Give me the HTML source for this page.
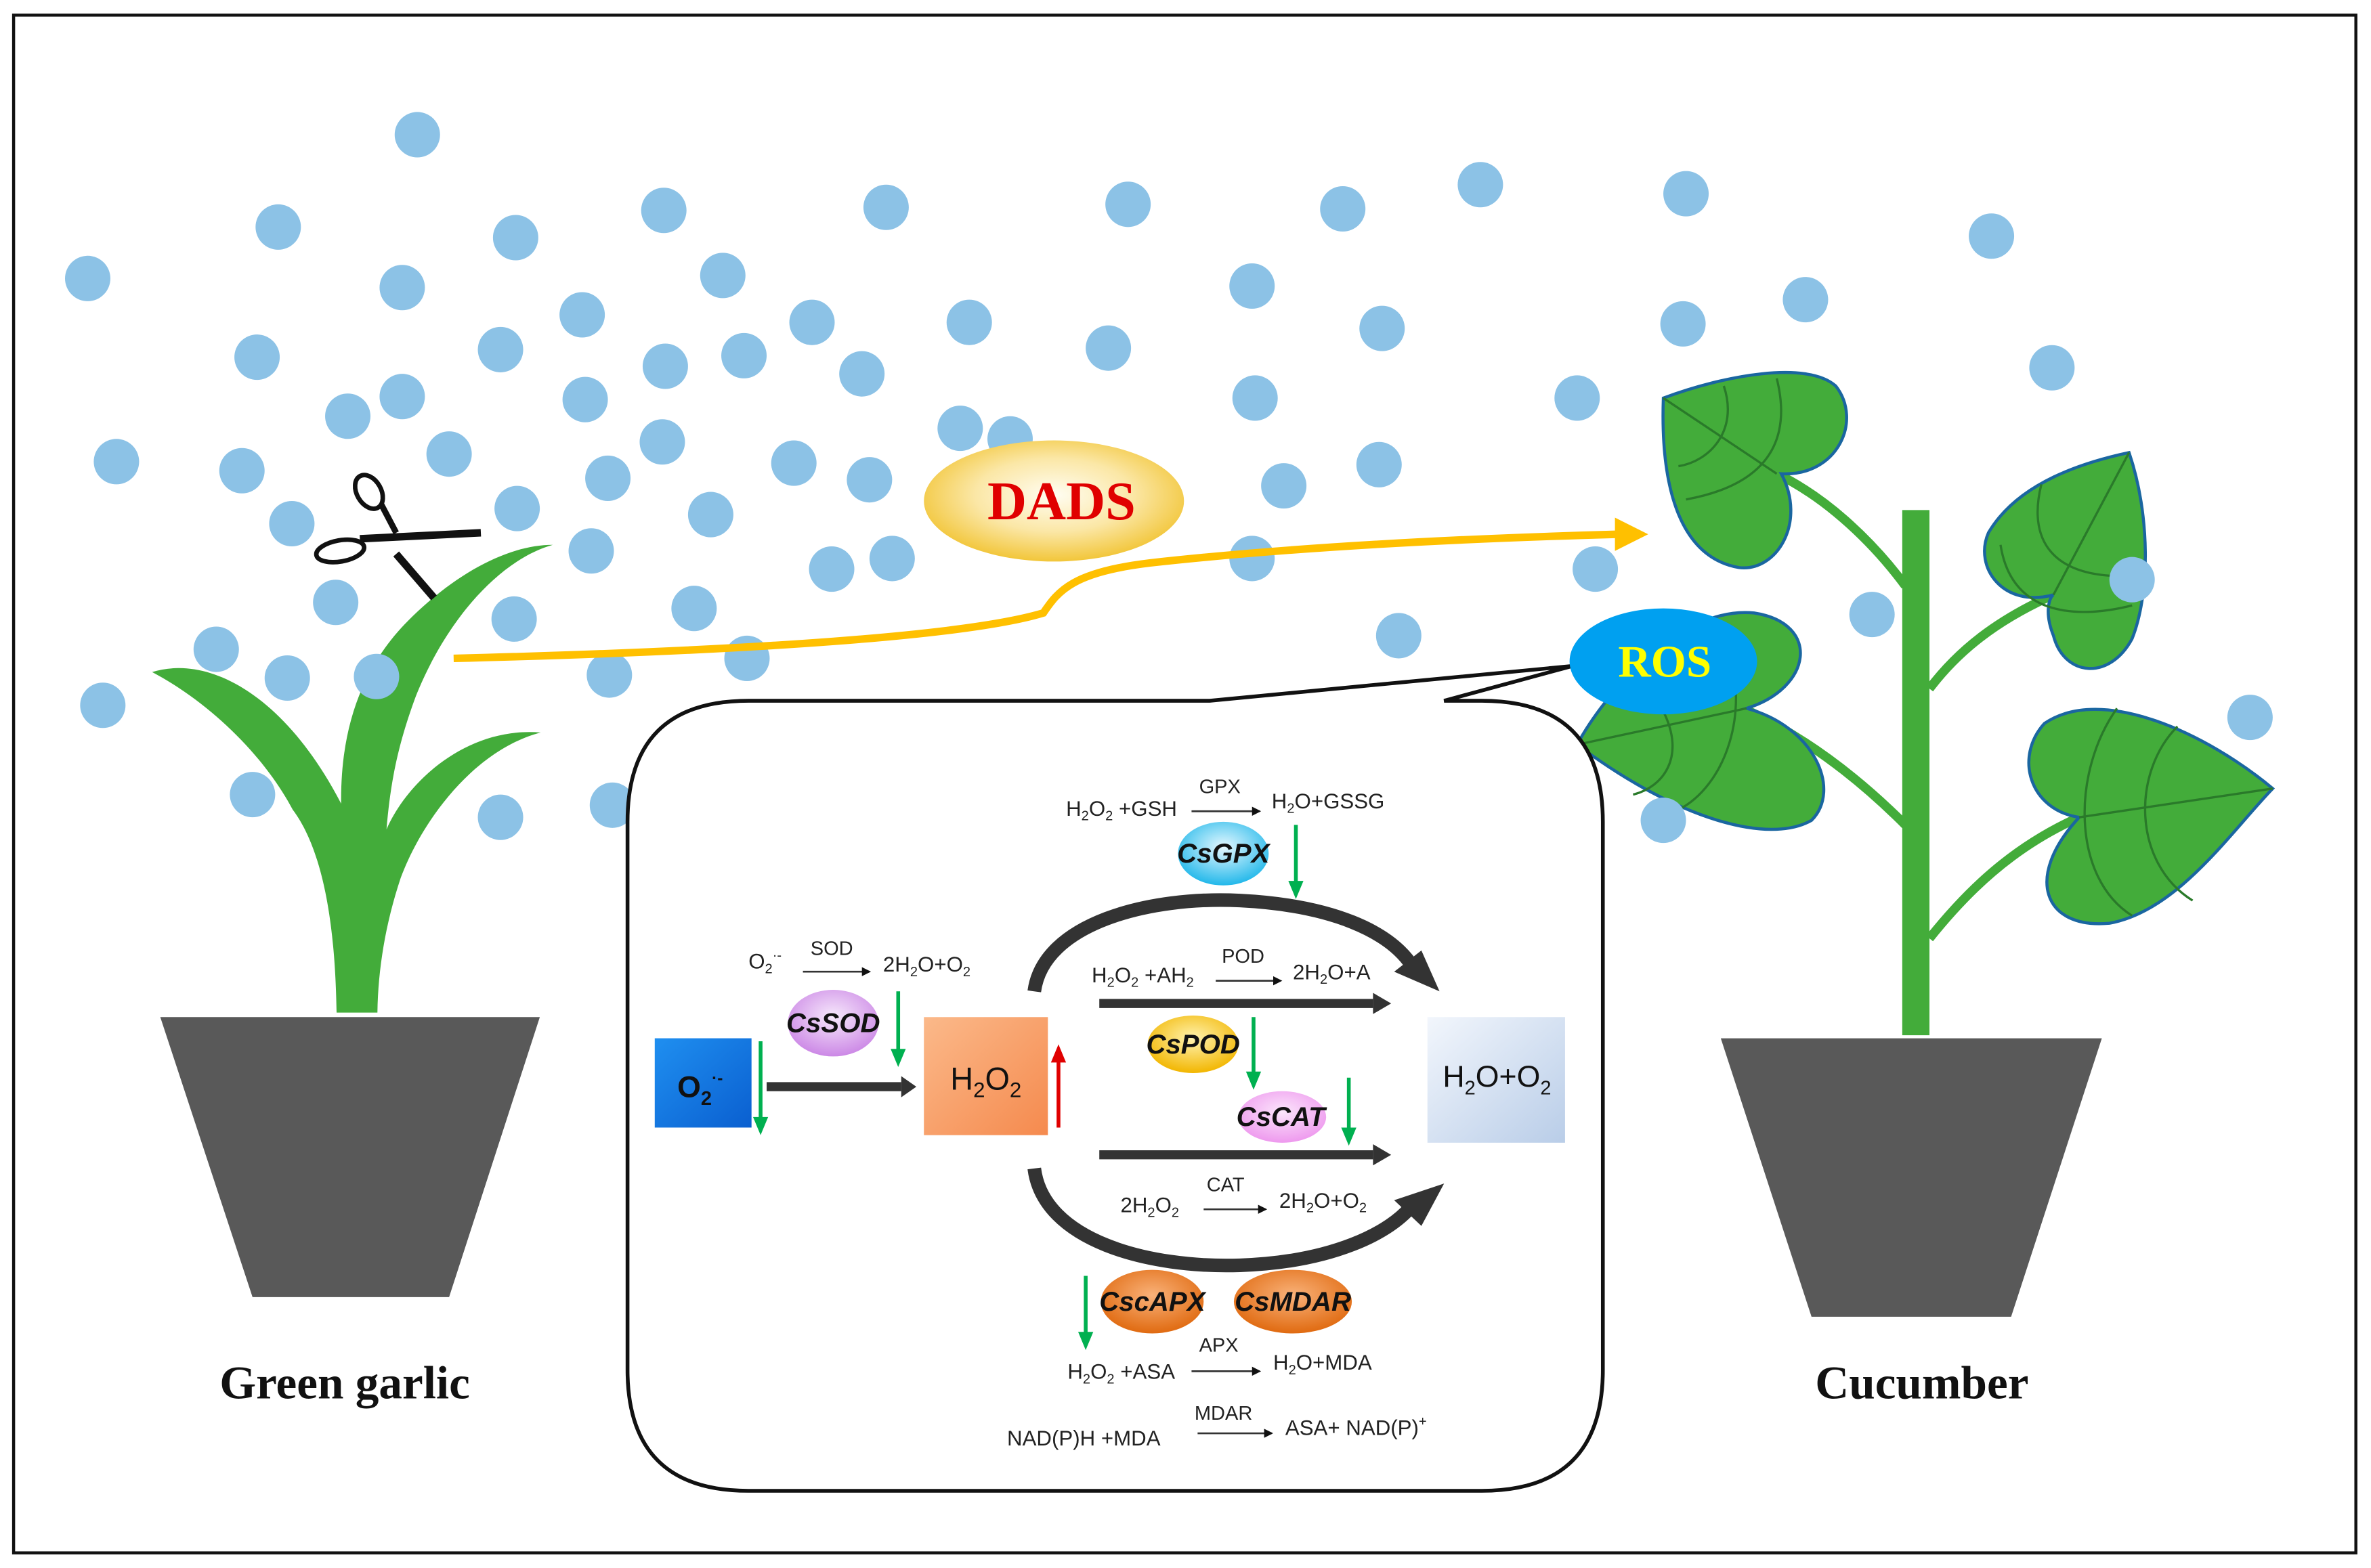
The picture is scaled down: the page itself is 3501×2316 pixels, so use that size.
<!DOCTYPE html>
<html><head><meta charset="utf-8"><style>
html,body{margin:0;padding:0;background:#fff;}
svg{display:block;}
.t{font-family:"Liberation Sans",sans-serif;font-size:14px;fill:#222;}
.e{font-family:"Liberation Sans",sans-serif;font-size:18px;font-weight:bold;font-style:italic;fill:#111;}
</style></head><body>
<svg width="3501" height="2316" viewBox="0 0 1568 1036" preserveAspectRatio="none" xmlns="http://www.w3.org/2000/svg">
<defs>
<radialGradient id="dads" cx="50%" cy="45%" r="55%"><stop offset="0" stop-color="#fffdf2"/><stop offset="0.55" stop-color="#fbe7a6"/><stop offset="1" stop-color="#f2c63a"/></radialGradient>
<linearGradient id="o2" x1="0" y1="0" x2="1" y2="1"><stop offset="0" stop-color="#1f8ff0"/><stop offset="1" stop-color="#0a5fd0"/></linearGradient>
<linearGradient id="h2o2" x1="0" y1="0" x2="1" y2="1"><stop offset="0" stop-color="#fbb98a"/><stop offset="1" stop-color="#f58a4e"/></linearGradient>
<linearGradient id="h2o" x1="0" y1="0" x2="1" y2="1"><stop offset="0" stop-color="#f2f6fc"/><stop offset="1" stop-color="#b9cde8"/></linearGradient>
<radialGradient id="gpx" cx="50%" cy="40%" r="60%"><stop offset="0" stop-color="#e6f8ff"/><stop offset="1" stop-color="#22b8ea"/></radialGradient>
<radialGradient id="sod" cx="50%" cy="40%" r="60%"><stop offset="0" stop-color="#f6e8fb"/><stop offset="1" stop-color="#cc88e6"/></radialGradient>
<radialGradient id="pod" cx="50%" cy="40%" r="60%"><stop offset="0" stop-color="#fff3b0"/><stop offset="1" stop-color="#f2b600"/></radialGradient>
<radialGradient id="cat" cx="50%" cy="40%" r="60%"><stop offset="0" stop-color="#fbe6fb"/><stop offset="1" stop-color="#ee99ee"/></radialGradient>
<radialGradient id="apx" cx="50%" cy="40%" r="60%"><stop offset="0" stop-color="#f9b27a"/><stop offset="1" stop-color="#e06a10"/></radialGradient>
<marker id="ah" markerWidth="6" markerHeight="6" refX="5" refY="3" orient="auto" markerUnits="userSpaceOnUse"><path d="M0,0 L6,3 L0,6z" fill="#111"/></marker>
</defs>
<rect x="9" y="10" width="1549" height="1016" fill="#fff" stroke="#111" stroke-width="2"/>

<g fill="#8cc2e6">
<ellipse cx="276" cy="89" rx="15" ry="15"/><ellipse cx="184" cy="150" rx="15" ry="15"/><ellipse cx="58" cy="184" rx="15" ry="15"/><ellipse cx="341" cy="157" rx="15" ry="15"/><ellipse cx="439" cy="139" rx="15" ry="15"/><ellipse cx="586" cy="137" rx="15" ry="15"/><ellipse cx="746" cy="135" rx="15" ry="15"/><ellipse cx="888" cy="138" rx="15" ry="15"/><ellipse cx="979" cy="122" rx="15" ry="15"/><ellipse cx="1115" cy="128" rx="15" ry="15"/><ellipse cx="1317" cy="156" rx="15" ry="15"/><ellipse cx="266" cy="190" rx="15" ry="15"/><ellipse cx="478" cy="182" rx="15" ry="15"/><ellipse cx="385" cy="208" rx="15" ry="15"/><ellipse cx="170" cy="236" rx="15" ry="15"/><ellipse cx="331" cy="231" rx="15" ry="15"/><ellipse cx="440" cy="242" rx="15" ry="15"/><ellipse cx="492" cy="235" rx="15" ry="15"/><ellipse cx="537" cy="213" rx="15" ry="15"/><ellipse cx="641" cy="213" rx="15" ry="15"/><ellipse cx="733" cy="230" rx="15" ry="15"/><ellipse cx="828" cy="189" rx="15" ry="15"/><ellipse cx="914" cy="217" rx="15" ry="15"/><ellipse cx="1113" cy="214" rx="15" ry="15"/><ellipse cx="1194" cy="198" rx="15" ry="15"/><ellipse cx="1357" cy="243" rx="15" ry="15"/><ellipse cx="230" cy="275" rx="15" ry="15"/><ellipse cx="266" cy="262" rx="15" ry="15"/><ellipse cx="387" cy="264" rx="15" ry="15"/><ellipse cx="570" cy="247" rx="15" ry="15"/><ellipse cx="77" cy="305" rx="15" ry="15"/><ellipse cx="160" cy="311" rx="15" ry="15"/><ellipse cx="297" cy="300" rx="15" ry="15"/><ellipse cx="438" cy="292" rx="15" ry="15"/><ellipse cx="525" cy="306" rx="15" ry="15"/><ellipse cx="575" cy="317" rx="15" ry="15"/><ellipse cx="635" cy="283" rx="15" ry="15"/><ellipse cx="668" cy="290" rx="15" ry="15"/><ellipse cx="830" cy="263" rx="15" ry="15"/><ellipse cx="1043" cy="263" rx="15" ry="15"/><ellipse cx="193" cy="346" rx="15" ry="15"/><ellipse cx="342" cy="336" rx="15" ry="15"/><ellipse cx="402" cy="316" rx="15" ry="15"/><ellipse cx="470" cy="340" rx="15" ry="15"/><ellipse cx="849" cy="321" rx="15" ry="15"/><ellipse cx="912" cy="307" rx="15" ry="15"/><ellipse cx="222" cy="398" rx="15" ry="15"/><ellipse cx="391" cy="364" rx="15" ry="15"/><ellipse cx="550" cy="376" rx="15" ry="15"/><ellipse cx="590" cy="369" rx="15" ry="15"/><ellipse cx="828" cy="369" rx="15" ry="15"/><ellipse cx="1055" cy="376" rx="15" ry="15"/><ellipse cx="143" cy="429" rx="15" ry="15"/><ellipse cx="340" cy="409" rx="15" ry="15"/><ellipse cx="459" cy="402" rx="15" ry="15"/><ellipse cx="403" cy="446" rx="15" ry="15"/><ellipse cx="494" cy="435" rx="15" ry="15"/><ellipse cx="925" cy="420" rx="15" ry="15"/><ellipse cx="1238" cy="406" rx="15" ry="15"/><ellipse cx="68" cy="466" rx="15" ry="15"/><ellipse cx="1488" cy="474" rx="15" ry="15"/><ellipse cx="167" cy="525" rx="15" ry="15"/><ellipse cx="331" cy="540" rx="15" ry="15"/><ellipse cx="405" cy="532" rx="15" ry="15"/>
</g>

<!-- garlic -->
<path fill="#43ac3a" d="M222.6,669 C222,640 220,570 193.6,535 C175,500 140,465 100.6,444 C140,432 190,462 225.6,531 C225,480 240,440 270,410 C300,380 335,360 365.6,360 C330,370 295,410 275,460 C262,495 258,520 255.6,548 C270,515 310,480 357.6,484 C315,495 280,540 265,580 C255,610 250,640 249.6,669 Z"/>
<g fill="#8cc2e6"><ellipse cx="190" cy="448" rx="15" ry="15"/><ellipse cx="249" cy="447" rx="15" ry="15"/></g>
<polygon points="106,672 357,672 297,857 167,857" fill="#595959"/>
<g stroke="#111" fill="none">
<line x1="238" y1="356" x2="318" y2="352" stroke-width="5"/>
<line x1="262" y1="366" x2="287" y2="395" stroke-width="5"/>
<line x1="252" y1="333" x2="262" y2="352" stroke-width="4"/>
<ellipse cx="244" cy="325" rx="8" ry="12" stroke-width="3" transform="rotate(-30 244 325)"/>
<ellipse cx="225" cy="364" rx="16" ry="7" stroke-width="3" transform="rotate(-10 225 364)"/>
</g>

<path d="M300,435 C500,430 640,420 690,405 C700,390 710,378 760,372 C850,362 960,356 1070,353" fill="none" stroke="#ffc000" stroke-width="5"/>
<polygon points="1068,342 1090,353 1068,364" fill="#ffc000"/>
<ellipse cx="697" cy="331" rx="86" ry="40" fill="url(#dads)"/>
<text x="702" y="343" text-anchor="middle" font-family="Liberation Serif,serif" font-weight="bold" font-size="36" fill="#e00000">DADS</text>

<g fill="none" stroke="#43ac3a" stroke-width="6">
<path d="M1175,313 C1210,330 1240,360 1260,387"/>
<path d="M1358,393 C1320,410 1295,430 1276,455"/>
<path d="M1155,469 C1200,490 1235,520 1260,545"/>
<path d="M1375,540 C1330,560 1300,590 1276,620"/>
</g>
<rect x="1258" y="337" width="18" height="347" fill="#43ac3a"/>
<g fill="#43ac3a" stroke="#1a66a0" stroke-width="2">
<path d="M1100,263 C1140,248 1195,238 1214,255 C1232,278 1215,315 1178,313 C1195,345 1175,378 1150,375 C1110,368 1098,320 1100,263 Z"/>
<path d="M1408,299 C1422,340 1422,392 1410,422 C1395,450 1365,447 1358,420 C1352,405 1355,395 1358,393 C1325,402 1305,375 1315,352 C1335,318 1380,305 1408,299 Z"/>
<path d="M1043,492 C1060,460 1110,400 1160,405 C1205,412 1198,455 1155,468 C1200,480 1218,522 1198,542 C1170,558 1110,542 1043,492 Z"/>
<path d="M1503,521 C1475,550 1440,602 1395,610 C1352,614 1338,580 1375,540 C1342,535 1332,500 1352,478 C1390,452 1460,485 1503,521 Z"/>
</g>
<g fill="none" stroke="#2a7a2a" stroke-width="1.5">
<line x1="1100" y1="263" x2="1175" y2="313"/><path d="M1140,255 C1150,285 1130,305 1110,308"/><path d="M1175,250 C1185,290 1170,320 1115,330"/>
<line x1="1408" y1="299" x2="1358" y2="393"/><path d="M1350,320 C1340,360 1360,385 1418,380"/><path d="M1323,360 C1330,405 1370,410 1410,400"/>
<line x1="1043" y1="492" x2="1155" y2="468"/><path d="M1100,470 C1115,500 1100,520 1080,525"/><path d="M1140,420 C1160,470 1140,520 1110,535"/>
<line x1="1503" y1="521" x2="1375" y2="540"/><path d="M1440,480 C1410,510 1410,570 1450,595"/><path d="M1400,468 C1370,510 1370,580 1410,605"/>
</g>
<ellipse cx="1100" cy="542" rx="15" ry="15" fill="#8cc2e6"/>
<ellipse cx="1410" cy="383" rx="15" ry="15" fill="#8cc2e6"/>
<polygon points="1138,686 1390,686 1330,870 1198,870" fill="#595959"/>

<path d="M495,463 L800,463 L1040,440 L955,463 L980,463 Q1060,463 1060,543 L1060,905 Q1060,985 980,985 L495,985 Q415,985 415,905 L415,543 Q415,463 495,463 Z" fill="#fff" stroke="#111" stroke-width="2.5"/>
<ellipse cx="1100" cy="437" rx="62" ry="35" fill="#00a0f0"/>
<text x="1101" y="447" text-anchor="middle" font-family="Liberation Serif,serif" font-weight="bold" font-size="30" fill="#ffff00">ROS</text>

<rect x="433" y="686" width="64" height="59" fill="url(#o2)"/>
<text x="463" y="725" text-anchor="middle" font-family="Liberation Sans,sans-serif" font-weight="bold" font-size="20" fill="#111">O<tspan font-size="13" dy="5">2</tspan><tspan font-size="11" dy="-14">·-</tspan></text>
<rect x="611" y="672" width="82" height="78" fill="url(#h2o2)"/>
<text x="652" y="720" text-anchor="middle" font-family="Liberation Sans,sans-serif" font-size="21" fill="#111">H<tspan font-size="14" dy="5">2</tspan><tspan dy="-5">O</tspan><tspan font-size="14" dy="5">2</tspan></text>
<rect x="944" y="672" width="91" height="83" fill="url(#h2o)"/>
<text x="990" y="718" text-anchor="middle" font-family="Liberation Sans,sans-serif" font-size="20" fill="#111">H<tspan font-size="13" dy="5">2</tspan><tspan dy="-5">O+O</tspan><tspan font-size="13" dy="5">2</tspan></text>

<g stroke="#333" stroke-width="6" fill="none">
<line x1="507" y1="718" x2="596" y2="718"/>
<line x1="727" y1="663" x2="908" y2="663"/>
<line x1="727" y1="763" x2="908" y2="763"/>
<path d="M684,655 C690,610 760,592 820,595 C880,598 920,615 935,640" stroke-width="9"/>
<path d="M684,772 C690,820 760,838 820,836 C880,834 920,815 935,795" stroke-width="9"/>
</g>
<g fill="#333">
<polygon points="596,711 606,718 596,725"/>
<polygon points="908,656 920,663 908,670"/>
<polygon points="908,756 920,763 908,770"/>
<polygon points="922,642 952,655 940,628"/>
<polygon points="922,793 955,782 940,810"/>
</g>

<g stroke="#00b050" stroke-width="2.5">
<line x1="503" y1="688" x2="503" y2="740"/><line x1="594" y1="655" x2="594" y2="695"/><line x1="857" y1="545" x2="857" y2="584"/><line x1="829" y1="672" x2="829" y2="710"/><line x1="892" y1="712" x2="892" y2="747"/><line x1="718" y1="843" x2="718" y2="882"/>
</g>
<g fill="#00b050">
<polygon points="498,738 508,738 503,750"/><polygon points="589,693 599,693 594,705"/><polygon points="852,582 862,582 857,594"/><polygon points="824,708 834,708 829,720"/><polygon points="887,745 897,745 892,757"/><polygon points="713,880 723,880 718,892"/>
</g>
<line x1="700" y1="745" x2="700" y2="700" stroke="#e00000" stroke-width="2.5"/>
<polygon points="695,702 705,702 700,690" fill="#e00000"/>

<ellipse cx="809" cy="564" rx="30" ry="21" fill="url(#gpx)"/><text class="e" x="809" y="570" text-anchor="middle">CsGPX</text>
<ellipse cx="551" cy="676" rx="30" ry="22" fill="url(#sod)"/><text class="e" x="551" y="682" text-anchor="middle">CsSOD</text>
<ellipse cx="789" cy="690" rx="30" ry="19" fill="url(#pod)"/><text class="e" x="789" y="696" text-anchor="middle">CsPOD</text>
<ellipse cx="848" cy="738" rx="29" ry="17" fill="url(#cat)"/><text class="e" x="847" y="744" text-anchor="middle">CsCAT</text>
<ellipse cx="762" cy="860" rx="34" ry="21" fill="url(#apx)"/><text class="e" x="762" y="866" text-anchor="middle">CscAPX</text>
<ellipse cx="855" cy="860" rx="39" ry="21" fill="url(#apx)"/><text class="e" x="855" y="866" text-anchor="middle">CsMDAR</text>

<g class="t">
<text x="705" y="539">H<tspan font-size="9" dy="3">2</tspan><tspan dy="-3">O</tspan><tspan font-size="9" dy="3">2</tspan><tspan dy="-3"> +GSH</tspan></text>
<text x="793" y="524" font-size="13">GPX</text>
<text x="841" y="534">H<tspan font-size="9" dy="3">2</tspan><tspan dy="-3">O+GSSG</tspan></text>
<text x="495" y="640">O<tspan font-size="9" dy="3">2</tspan><tspan font-size="9" dy="-9">·-</tspan></text>
<text x="536" y="631" font-size="13">SOD</text>
<text x="584" y="642">2H<tspan font-size="9" dy="3">2</tspan><tspan dy="-3">O+O</tspan><tspan font-size="9" dy="3">2</tspan></text>
<text x="722" y="649">H<tspan font-size="9" dy="3">2</tspan><tspan dy="-3">O</tspan><tspan font-size="9" dy="3">2</tspan><tspan dy="-3"> +AH</tspan><tspan font-size="9" dy="3">2</tspan></text>
<text x="808" y="636" font-size="13">POD</text>
<text x="855" y="647">2H<tspan font-size="9" dy="3">2</tspan><tspan dy="-3">O+A</tspan></text>
<text x="741" y="801">2H<tspan font-size="9" dy="3">2</tspan><tspan dy="-3">O</tspan><tspan font-size="9" dy="3">2</tspan></text>
<text x="798" y="787" font-size="13">CAT</text>
<text x="846" y="798">2H<tspan font-size="9" dy="3">2</tspan><tspan dy="-3">O+O</tspan><tspan font-size="9" dy="3">2</tspan></text>
<text x="706" y="911">H<tspan font-size="9" dy="3">2</tspan><tspan dy="-3">O</tspan><tspan font-size="9" dy="3">2</tspan><tspan dy="-3"> +ASA</tspan></text>
<text x="793" y="893" font-size="13">APX</text>
<text x="842" y="905">H<tspan font-size="9" dy="3">2</tspan><tspan dy="-3">O+MDA</tspan></text>
<text x="666" y="955">NAD(P)H +MDA</text>
<text x="790" y="938" font-size="13">MDAR</text>
<text x="850" y="948">ASA+ NAD(P)<tspan font-size="9" dy="-6">+</tspan></text>
</g>
<g stroke="#333" stroke-width="1.2" marker-end="url(#ah)">
<line x1="788" y1="536" x2="833" y2="536"/>
<line x1="531" y1="642" x2="575" y2="642"/>
<line x1="804" y1="648" x2="847" y2="648"/>
<line x1="796" y1="799" x2="837" y2="799"/>
<line x1="788" y1="906" x2="833" y2="906"/>
<line x1="792" y1="947" x2="841" y2="947"/>
</g>

<text x="228" y="924" text-anchor="middle" font-family="Liberation Serif,serif" font-weight="bold" font-size="31" fill="#111">Green garlic</text>
<text x="1271" y="924" text-anchor="middle" font-family="Liberation Serif,serif" font-weight="bold" font-size="31" fill="#111">Cucumber</text>
</svg>
</body></html>
